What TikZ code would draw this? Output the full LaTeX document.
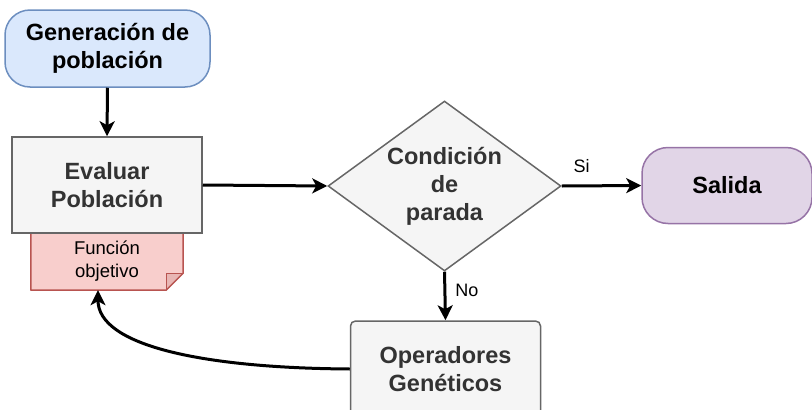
\documentclass[tikz,border=0pt]{standalone}
\usepackage{fontspec}
\setmainfont{Liberation Sans}
\usetikzlibrary{shapes.geometric,arrows.meta,calc}
\definecolor{bluefill}{HTML}{DAE8FC}
\definecolor{bluedraw}{HTML}{6C8EBF}
\definecolor{grayfill}{HTML}{F5F5F5}
\definecolor{graydraw}{HTML}{666666}
\definecolor{graytext}{HTML}{333333}
\definecolor{redfill}{HTML}{F8CECC}
\definecolor{reddraw}{HTML}{B85450}
\definecolor{redfold}{HTML}{E8B6B4}
\definecolor{purplefill}{HTML}{E1D5E7}
\definecolor{purpledraw}{HTML}{9673A6}
\tikzset{
  big/.style={font=\fontsize{23.5}{28}\selectfont\bfseries, align=center},
  small/.style={font=\fontsize{18.5}{23}\selectfont, align=center},
  lbl/.style={font=\fontsize{18}{20}\selectfont, inner sep=0pt},
  startbox/.style={big, draw=bluedraw, fill=bluefill, line width=1.5pt, rounded corners=25pt, minimum width=205pt, minimum height=77pt, inner sep=0pt},
  procbox/.style={big, draw=graydraw, fill=grayfill, text=graytext, line width=1.5pt, minimum width=190pt, minimum height=96pt, inner sep=0pt},
  endbox/.style={big, draw=purpledraw, fill=purplefill, line width=1.5pt, rounded corners=26pt, minimum width=170pt, minimum height=76pt, inner sep=0pt},
  decbox/.style={big, diamond, draw=graydraw, fill=grayfill, text=graytext, line width=1.5pt, minimum width=233pt, minimum height=170pt, inner sep=0pt, aspect=1.37},
  conn/.style={line width=3pt, -{Stealth[length=15pt,width=15pt,inset=4pt]}},
}
\begin{document}
\begin{tikzpicture}[x=1pt,y=-1pt]
\path[use as bounding box, clip] (0,0) rectangle (812,410);
\node[small, minimum width=152pt, minimum height=57pt, inner sep=0pt] (fo) at (107,261.5) {};
\fill[redfill] (fo.north west) -- (fo.north east) -- ($(fo.south east)+(0,-17)$) -- ($(fo.south east)+(-17,0)$) -- (fo.south west) -- cycle;
\fill[redfold] ($(fo.south east)+(0,-17)$) -- ($(fo.south east)+(-17,-17)$) -- ($(fo.south east)+(-17,0)$) -- cycle;
\draw[reddraw, line width=1.5pt, line join=round] (fo.north west) -- (fo.north east) -- ($(fo.south east)+(0,-17)$) -- ($(fo.south east)+(-17,0)$) -- (fo.south west) -- cycle;
\draw[reddraw, line width=1.2pt] ($(fo.south east)+(0,-17)$) -- ($(fo.south east)+(-17,-17)$) -- ($(fo.south east)+(-17,0)$);
\node[small, text=black] at (fo) {Función\\objetivo};
\node[startbox] (gen) at (107.5,48.5) {Generación de\\población};
\node[procbox] (eval) at (107,185) {Evaluar\\Población};
\node[decbox] (cond) at (444.5,186) {Condición\\de\\parada};
\node[endbox] (out) at (727,185.5) {Salida};
\node[procbox, rounded corners=5pt] (op) at (445.5,369) {Operadores\\Genéticos};
\draw[conn] (gen.south) -- (eval.north);
\draw[conn] (eval.east) -- (cond.west);
\draw[conn] (cond.east) -- node[lbl, pos=0.25, above=12pt] {Si} (out.west);
\draw[conn] (cond.south) -- node[lbl, right=9pt, pos=0.38] {No} (op.north);
\coordinate (foin) at ($(fo.south)+(-9,0)$);
\draw[conn] (op.west) .. controls (200,368) and (98,345) .. (foin);
\end{tikzpicture}
\end{document}
